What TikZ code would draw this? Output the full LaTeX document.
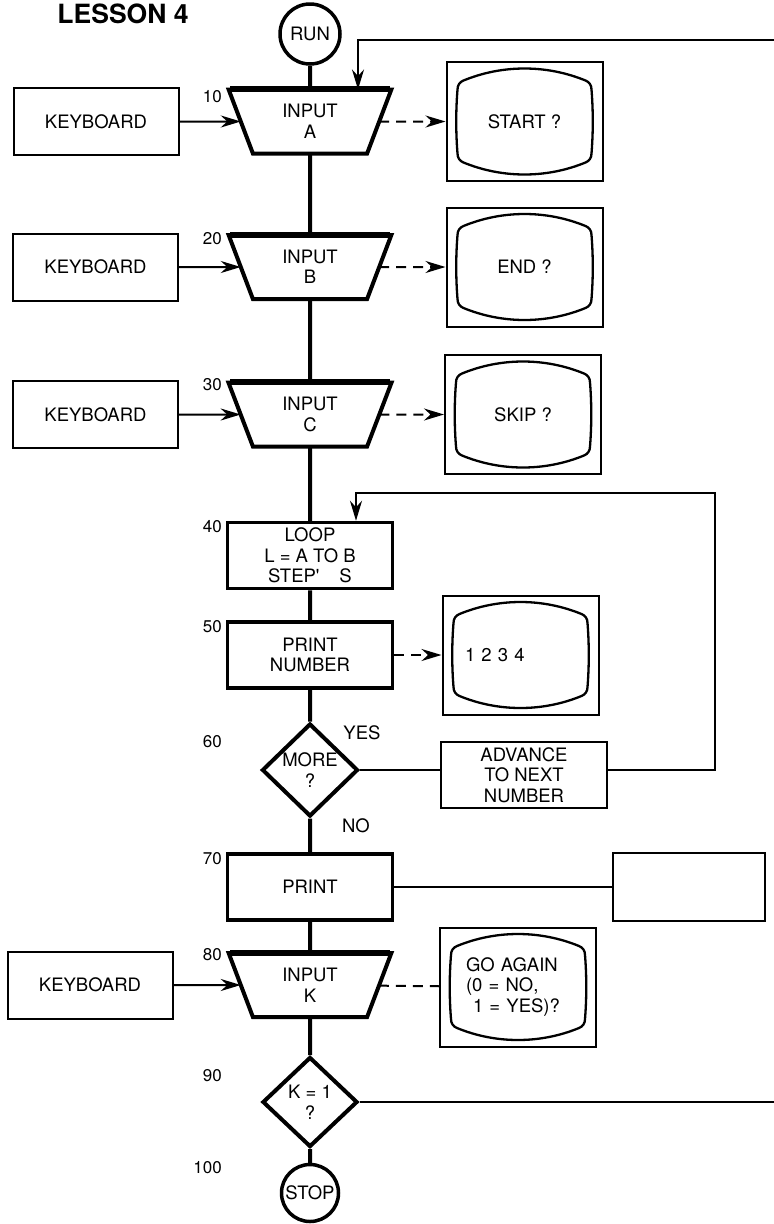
\documentclass[tikz,border=0pt]{standalone}
\usepackage{fontspec}
\setmainfont{TeX Gyre Heros}
\usetikzlibrary{shapes.geometric, arrows.meta}

\tikzset{
  kbd/.style={draw, line width=2pt, minimum width=165pt, minimum height=67pt},
  proc/.style={draw, line width=3.5pt, minimum width=165pt, minimum height=66pt, inner sep=1pt, align=center},
  trap/.style={draw, line width=4pt, trapezium, shape border rotate=180,
    trapezium left angle=72, trapezium right angle=72, trapezium stretches=true,
    minimum width=164pt, minimum height=64pt, outer sep=0pt, align=center},
  decide/.style={draw, line width=4pt, diamond, minimum width=96pt, minimum height=93pt, inner sep=0pt, align=center},
  term/.style={draw, line width=3.5pt, circle, inner sep=0pt, minimum size=60pt},
  monitor/.style={draw, line width=2pt, minimum width=156pt, minimum height=119pt, align=center},
  screen/.style={line width=2.3pt, line join=round},
  flow/.style={line width=4pt},
  conn/.style={line width=2pt},
  disp/.style={line width=2pt, dash pattern=on 10pt off 7pt},
  num/.style={font=\fontsize{17}{19}\selectfont, inner sep=0pt, anchor=east},
}

% CRT screen inside a monitor node
\newcommand{\crt}[1]{%
  \begin{scope}[shift={(#1.center)}]
    \draw[screen] (-61,41) .. controls (-22,57) and (22,57) .. (61,41)
      .. controls (65,39.5) and (67,36) .. (67,32)
      .. controls (68.7,11) and (68.7,-11) .. (67,-32)
      .. controls (67,-36) and (65,-39.5) .. (61,-41)
      .. controls (22,-57) and (-22,-57) .. (-61,-41)
      .. controls (-65,-39.5) and (-67,-36) .. (-67,-32)
      .. controls (-68.7,-11) and (-68.7,11) .. (-67,32)
      .. controls (-67,36) and (-65,39.5) .. cycle;
  \end{scope}}

\begin{document}
\begin{tikzpicture}[x=1pt, y=1pt, font=\fontsize{18.5}{20.5}\selectfont,
  >={Stealth[length=20pt,width=12pt]}]
\useasboundingbox (0,0) rectangle (774,-1224);

\node[font=\fontsize{26.5}{30}\selectfont\bfseries] (title) at (123,-14) {LESSON 4};

% main column
\node[term] (run) at (310,-34) {RUN};
\node[trap] (inA) at (310,-121.5) {INPUT\\A};
\node[trap] (inB) at (310,-267) {INPUT\\B};
\node[trap] (inC) at (310,-414.5) {INPUT\\C};
\node[proc] (loop) at (310,-555.5) {LOOP\\L = A TO B\\STEP\textquotesingle\hspace{20pt}S};
\node[proc] (prnum) at (310,-655) {PRINT\\NUMBER};
\node[decide] (more) at (310,-770) {MORE\\?};
\node[proc] (print) at (310,-887) {PRINT};
\node[trap] (inK) at (310,-985) {INPUT\\K};
\node[decide, minimum width=95pt, minimum height=90pt] (kone) at (310,-1102) {K = 1\\?};
\node[term, minimum size=57pt] (stop) at (310,-1193) {STOP};

% keyboards
\node[kbd] (kb1) at (96,-121.5) {KEYBOARD};
\node[kbd] (kb2) at (95.5,-267) {KEYBOARD};
\node[kbd] (kb3) at (95.5,-414.5) {KEYBOARD};
\node[kbd] (kb4) at (90,-985) {KEYBOARD};

% monitors
\node[monitor] (mon1) at (524.5,-121.5) {START ?};
\node[monitor] (mon2) at (524.5,-267) {END ?};
\node[monitor] (mon3) at (523,-414.5) {SKIP ?};
\node[monitor, text width=111pt, align=left] (mon4) at (520.5,-655) {1 2 3 4};
\node[monitor, text width=104pt, align=left] (monK) at (518,-987) {GO AGAIN\\(0 = NO,\\\hspace*{7pt}1 = YES)?};
\foreach \m in {mon1,mon2,mon3,mon4,monK} \crt{\m};

\node[proc, line width=2.2pt, minimum width=166pt] (adv) at (524,-775) {ADVANCE\\TO NEXT\\NUMBER};
\node[draw, line width=2pt, minimum width=152pt, minimum height=68pt] (blank) at (689,-887) {};

% line numbers
\foreach \n/\y in {10/97,20/239,30/385,40/527,50/627,60/742,70/859,80/955,90/1076,100/1168}
  \node[num] (n\n) at (222,-\y) {\n};
\node (yes) at (362,-733) {YES};
\node (no) at (356,-826) {NO};

% thick top edges
\foreach \t in {inA,inB,inC,inK}
  \draw[line width=6pt] ([xshift=-80pt]\t.north) -- ([xshift=80pt]\t.north);

% connectors
\draw[flow] (run) -- (inA) -- (inB) -- (inC) -- (loop) -- (prnum) -- (more)
  -- (print) -- (inK) -- (kone) -- (stop);
\foreach \k/\t in {kb1/inA,kb2/inB,kb3/inC,kb4/inK}
  \draw[conn,->] (\k) -- (\t);
\foreach \t/\m in {inA/mon1,inB/mon2,inC/mon3,prnum/mon4}
  \draw[disp,->] (\t) -- (\m);
\draw[disp] (inK) -- (monK);

\coordinate (top) at (774,-40);
\draw[conn,->] (top) -| ([xshift=48pt]inA.north);
\coordinate (back) at (715,-493);
\draw[conn] (more) -- (more -| adv.west);
\draw[conn,->] (adv.east |- more) -| (back) -| ([xshift=46pt]loop.north);
\draw[conn] (print) -- (blank);
\coordinate (kout) at (774,-1102);
\draw[conn] (kone) -- (kout);
\end{tikzpicture}
\end{document}
